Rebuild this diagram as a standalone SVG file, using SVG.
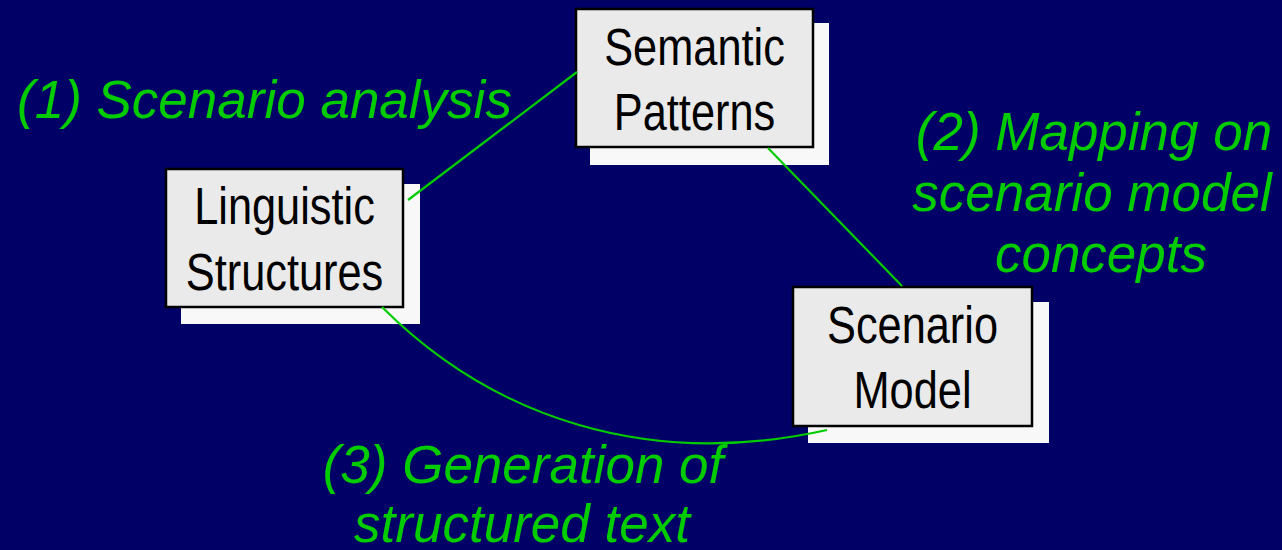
<svg xmlns="http://www.w3.org/2000/svg" width="1282" height="550" viewBox="0 0 1282 550">
  <style>
    .shadow { fill: #f8f8f8; }
    .box { fill: #eaeaea; stroke: #000000; stroke-width: 2.5; }
    .name { font-family: "Liberation Sans", Arial, sans-serif; font-size: 51px; fill: #000000; text-anchor: middle; }
    .step { font-family: "Liberation Sans", Arial, sans-serif; font-size: 53px; font-style: italic; fill: #00cc00; }
    .mid { text-anchor: middle; }
    .link { fill: none; stroke: #00cc00; stroke-width: 2.2; }
  </style>
  <rect width="1282" height="550" fill="#000066"/>

  <!-- node boxes: offset light shadow, then the framed box with a two-line title -->
  <g id="semantic-patterns">
    <rect class="shadow" x="590" y="23" width="239" height="142"/>
    <rect class="box" x="576" y="9" width="237" height="138"/>
    <text class="name" transform="translate(694.5,65) scale(0.85,1)">Semantic</text>
    <text class="name" transform="translate(694.5,130) scale(0.85,1)">Patterns</text>
  </g>

  <g id="linguistic-structures">
    <rect class="shadow" x="181" y="184" width="239" height="140"/>
    <rect class="box" x="166" y="169" width="237" height="138"/>
    <text class="name" transform="translate(284.5,224) scale(0.85,1)">Linguistic</text>
    <text class="name" transform="translate(284.5,290) scale(0.85,1)">Structures</text>
  </g>

  <g id="scenario-model">
    <rect class="shadow" x="808" y="302" width="241" height="141"/>
    <rect class="box" x="793" y="287" width="239" height="139"/>
    <text class="name" transform="translate(912.5,343) scale(0.85,1)">Scenario</text>
    <text class="name" transform="translate(912.5,408) scale(0.85,1)">Model</text>
  </g>

  <!-- connectors between the three stages -->
  <g id="connectors">
    <line class="link" x1="408" y1="200" x2="577" y2="72"/>
    <line class="link" x1="768" y1="148" x2="902" y2="286"/>
    <path class="link" d="M382,307 C492,417 647,470 827,430"/>
  </g>

  <!-- step labels -->
  <g id="labels">
    <text class="step" x="17" y="118">(1) Scenario analysis</text>
    <text class="step mid" x="1094" y="150">(2) Mapping on</text>
    <text class="step mid" x="1092" y="211">scenario model</text>
    <text class="step mid" x="1101" y="272">concepts</text>
    <text class="step mid" x="523" y="483">(3) Generation of</text>
    <text class="step mid" x="522" y="542">structured text</text>
  </g>
</svg>
